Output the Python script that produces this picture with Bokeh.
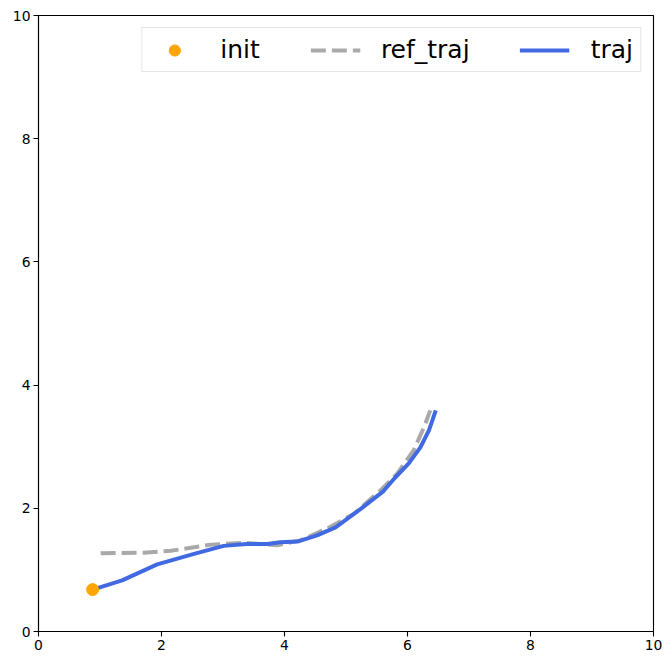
from bokeh.plotting import figure
from bokeh.models import Range1d, Legend, LegendItem, FixedTicker
from bokeh.embed import file_html
from bokeh.resources import INLINE

init_x = [0.88]
init_y = [0.68]

ref_x = [1.01, 1.71, 2.15, 2.80, 3.34, 3.88, 4.26, 4.69, 5.13, 5.56, 5.83, 6.10, 6.27, 6.37]
ref_y = [1.27, 1.28, 1.31, 1.41, 1.44, 1.40, 1.48, 1.67, 1.91, 2.29, 2.56, 2.94, 3.32, 3.59]

traj_x = [0.88, 1.36, 1.93, 2.53, 3.01, 3.39, 3.72, 3.93, 4.21, 4.53, 4.83, 5.24, 5.61, 5.80, 6.02, 6.21, 6.35, 6.46]
traj_y = [0.68, 0.83, 1.09, 1.26, 1.39, 1.42, 1.42, 1.45, 1.46, 1.56, 1.69, 1.99, 2.28, 2.50, 2.73, 2.99, 3.27, 3.59]

ticks = [0, 2, 4, 6, 8, 10]

p = figure(output_backend="svg", toolbar_location=None,
           frame_width=615, frame_height=616,
           x_range=Range1d(0, 10), y_range=Range1d(0, 10),
           min_border_left=38, min_border_top=15, min_border_right=11, min_border_bottom=26)
p.xgrid.visible = False
p.ygrid.visible = False
p.outline_line_color = "black"
p.outline_line_width = 1.1

for ax in (p.xaxis[0], p.yaxis[0]):
    ax.ticker = FixedTicker(ticks=ticks)
    ax.minor_tick_line_color = None
    ax.major_tick_in = 0
    ax.major_tick_out = 5
    ax.axis_line_color = "black"
    ax.axis_line_width = 1.1
    ax.major_tick_line_width = 1.1
    ax.major_label_text_font = "DejaVu Sans"
    ax.major_label_text_font_size = "13.9px"
    ax.major_label_text_color = "black"
    ax.major_label_standoff = 3

r_ref = p.line(ref_x, ref_y, line_color="#A9A9A9", line_width=4, line_dash="15 6")
r_traj = p.line(traj_x, traj_y, line_color="#4169E1", line_width=4)
r_init = p.scatter(init_x, init_y, size=12, fill_color="#FFA500", line_color="#FFA500")

legend = Legend(items=[
    LegendItem(label="init", renderers=[r_init]),
    LegendItem(label="ref_traj", renderers=[r_ref]),
    LegendItem(label="traj", renderers=[r_traj]),
], orientation="horizontal", location="top_right")
legend.margin = 12
legend.padding = 7
legend.spacing = 50
legend.glyph_width = 50
legend.glyph_height = 28
legend.label_standoff = 21
legend.label_text_font = "DejaVu Sans"
legend.label_text_font_size = "25px"
legend.label_text_color = "black"
legend.label_text_baseline = "middle"
legend.border_line_color = "#cccccc"
legend.border_line_width = 1
legend.background_fill_alpha = 0.8
p.add_layout(legend, "center")

open("out.html", "w").write(file_html(p, INLINE))
